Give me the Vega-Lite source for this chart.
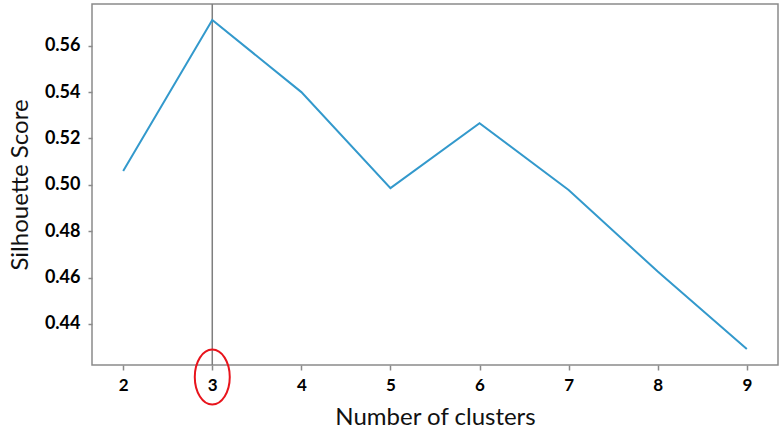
{
  "$schema": "https://vega.github.io/schema/vega-lite/v6.json",
  "autosize": "none",
  "width": 686,
  "height": 361,
  "padding": {"left": 92, "top": 4, "right": 5, "bottom": 69},
  "background": "white",
  "config": {
    "view": {"stroke": "#8a8a8a", "strokeWidth": 1.5},
    "font": "Lato"
  },
  "datasets": {
    "scores": [
      {"k": 2, "score": 0.506},
      {"k": 3, "score": 0.5711},
      {"k": 4, "score": 0.540},
      {"k": 5, "score": 0.4986},
      {"k": 6, "score": 0.5266},
      {"k": 7, "score": 0.4978},
      {"k": 8, "score": 0.4626},
      {"k": 9, "score": 0.4292}
    ],
    "best": [{"k": 3, "score": 0.4171}]
  },
  "layer": [
    {
      "data": {"name": "best"},
      "mark": {"type": "rule", "color": "#7f7f7f", "strokeWidth": 1.5},
      "encoding": {
        "x": {"field": "k", "type": "quantitative"}
      }
    },
    {
      "data": {"name": "scores"},
      "mark": {"type": "line", "color": "#3399cc", "strokeWidth": 2},
      "encoding": {
        "x": {
          "field": "k",
          "type": "quantitative",
          "scale": {"domain": [1.65, 9.35], "nice": false, "zero": false},
          "axis": {
            "title": "Number of clusters",
            "titleFont": "Lato",
            "titleFontSize": 24,
            "titleFontWeight": "normal",
            "titleColor": "#111111",
            "titlePadding": 12,
            "values": [2, 3, 4, 5, 6, 7, 8, 9],
            "format": "d",
            "domain": false,
            "grid": false,
            "ticks": true,
            "tickSize": 5,
            "tickColor": "#8a8a8a",
            "tickWidth": 1.5,
            "labelFont": "Lato",
            "labelFontSize": 17,
            "labelFontWeight": "bold",
            "labelColor": "#000000",
            "labelPadding": 7
          }
        },
        "y": {
          "field": "score",
          "type": "quantitative",
          "scale": {"domain": [0.4223, 0.578], "nice": false, "zero": false},
          "axis": {
            "title": "Silhouette Score",
            "titleFont": "Lato",
            "titleFontSize": 24,
            "titleFontWeight": "normal",
            "titleColor": "#111111",
            "titlePadding": 12,
            "values": [0.44, 0.46, 0.48, 0.5, 0.52, 0.54, 0.56],
            "format": ".2f",
            "domain": false,
            "grid": false,
            "ticks": true,
            "tickSize": 4,
            "tickColor": "#8a8a8a",
            "tickWidth": 1.5,
            "labelFont": "Lato",
            "labelFontSize": 18,
            "labelFontWeight": "bold",
            "labelColor": "#000000",
            "labelPadding": 8
          }
        }
      }
    },
    {
      "data": {"name": "best"},
      "mark": {
        "type": "point",
        "shape": "M -0.636 0 A 0.636 1 0 1 0 0.636 0 A 0.636 1 0 1 0 -0.636 0 Z",
        "size": 3025,
        "filled": false,
        "stroke": "#e8141c",
        "strokeWidth": 2,
        "opacity": 1,
        "clip": false
      },
      "encoding": {
        "x": {"field": "k", "type": "quantitative"},
        "y": {"field": "score", "type": "quantitative"}
      }
    }
  ]
}
